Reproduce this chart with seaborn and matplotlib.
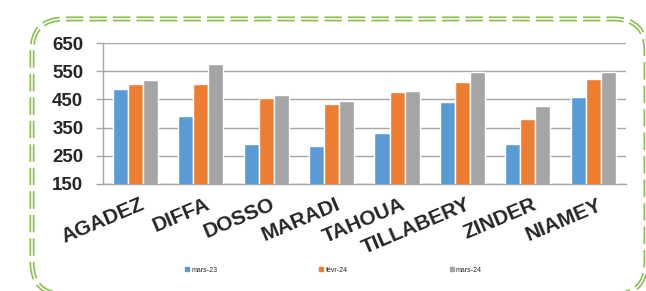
import seaborn as sns
import matplotlib.pyplot as plt
import matplotlib.transforms as mtransforms
import pandas as pd
from matplotlib.patches import FancyBboxPatch

regions = ['AGADEZ', 'DIFFA', 'DOSSO', 'MARADI', 'TAHOUA', 'TILLABERY', 'ZINDER', 'NIAMEY']
mars_23 = [487, 391, 292, 283, 330, 440, 292, 457]
fevr_24 = [506, 503, 455, 433, 475, 511, 381, 523]
mars_24 = [518, 577, 467, 445, 479, 549, 428, 549]
series = ['mars-23', 'févr-24', 'mars-24']
colors = ['#5B9BD5', '#ED7D31', '#A5A5A5']

df = pd.DataFrame({'Region': regions * 3,
                   'Periode': [s for s in series for _ in regions],
                   'Valeur': mars_23 + fevr_24 + mars_24})

sns.set_style('white')
plt.rcParams['font.family'] = ['Liberation Sans', 'DejaVu Sans']

fig = plt.figure(figsize=(6.46, 2.91), dpi=100)
ax = fig.add_axes([0.159, 0.368, 0.81, 0.484])

sns.barplot(data=df, x='Region', y='Valeur', hue='Periode', palette=colors,
            width=0.69, saturation=1, ax=ax, legend=False, zorder=3)

ax.set_ylim(150, 650)
ax.set_yticks(range(150, 651, 100))
ax.set_xlim(-0.5, len(regions) - 0.5)
ax.grid(axis='y', color='#A6A6A6', linewidth=1, zorder=0)
ax.set_xlabel('')
ax.set_ylabel('')
for s in ['top', 'right']:
    ax.spines[s].set_visible(False)
for s in ['left', 'bottom']:
    ax.spines[s].set_color('#A6A6A6')
    ax.spines[s].set_linewidth(1)

# category separators as ticks
ax.set_xticks([i - 0.5 for i in range(len(regions) + 1)], minor=True)
ax.tick_params(axis='x', which='minor', length=5, color='#A6A6A6', width=1)
ax.tick_params(axis='x', which='major', length=0, pad=8)
ax.tick_params(axis='y', length=5, color='#A6A6A6', width=1, pad=9, left=True)
ax.set_xticks(range(len(regions)))
ax.set_xticklabels(regions, rotation=23, ha='right', rotation_mode='anchor',
                   fontsize=15, fontweight='bold')
for lbl in ax.get_yticklabels():
    lbl.set_fontsize(13.5)
    lbl.set_fontweight('bold')

offset = mtransforms.ScaledTranslation(0.04, 0, fig.dpi_scale_trans)
for lbl in ax.get_xticklabels():
    lbl.set_transform(lbl.get_transform() + offset)

handles = [plt.Rectangle((0, 0), 1, 1, color=c) for c in colors]
fig.legend(handles, series, loc='center', bbox_to_anchor=(0.516, 0.072), ncol=3,
           frameon=False, fontsize=5, handlelength=0.6, handleheight=0.6,
           handletextpad=0.3, columnspacing=14.7)

# green double dashed rounded frame
for lw, col, ls in [(3.6, '#8CC152', (0, (3.5, 1.2))), (1.1, 'white', '-')]:
    box = FancyBboxPatch((32 / 646, -0.012), 614 / 646, 0.947,
                         boxstyle='round,pad=0,rounding_size=0.05',
                         transform=fig.transFigure, fill=False,
                         edgecolor=col, linewidth=lw,
                         linestyle=ls, clip_on=False,
                         mutation_aspect=646 / 291)
    fig.patches.append(box)

fig.savefig('out.png', dpi=100)
